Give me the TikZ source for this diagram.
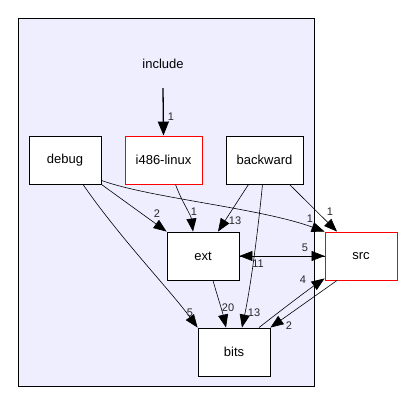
\documentclass[tikz,border=0pt]{standalone}
\usepackage{fontspec}
\setmainfont{Liberation Sans}
\usetikzlibrary{arrows.meta}
\definecolor{clusterbg}{RGB}{238,238,255}
\tikzset{
  dirbox/.style={draw=black, fill=white, line width=0.9pt, minimum width=72pt, minimum height=48pt, inner sep=0pt, font=\fontsize{13}{15}\selectfont},
  redbox/.style={dirbox, draw=red},
  dep/.style={draw=black, line width=0.6pt, -{Triangle[length=13pt,width=10pt]}},
  lab/.style={font=\fontsize{11}{13}\selectfont, inner sep=0pt, text=black!85}
}
\begin{document}
\begin{tikzpicture}[x=1pt,y=-1pt]
\useasboundingbox (0,0) rectangle (404,415);
\fill[white] (0,0) rectangle (404,415);
\draw[fill=clusterbg, line width=0.9pt] (18,18) rectangle (314,386);
\node[inner sep=0pt, minimum width=60pt, minimum height=48pt, font=\fontsize{13}{15}\selectfont] (include) at (163,64) {include};
\node[dirbox] (debug) at (65,160) {debug};
\node[redbox, minimum width=77pt] (i486) at (163.5,160) {i486-linux};
\node[dirbox, minimum width=77pt] (backward) at (264.5,160) {backward};
\node[dirbox] (ext) at (203,256) {ext};
\node[redbox] (src) at (361,256) {src};
\node[dirbox] (bits) at (234,352) {bits};

\draw[dep, line width=1.3pt, -{Triangle[length=14pt,width=11pt]}] (include.south) -- (i486.north) node[lab, at={(171,117)}] {1};
\draw[dep] (debug.south east) -- (ext.north west) node[lab, at={(157,214)}] {2};
\draw[dep] ([xshift=12pt]i486.south) .. controls (181,200) and (191,215) .. ([xshift=-10pt]ext.north) node[lab, at={(194,212)}] {1};
\draw[dep] ([xshift=18pt]debug.south) .. controls (120,238) and (170,290) .. (bits.north west) node[lab, at={(190,313)}] {5};
\draw[dep] ([yshift=4pt]debug.south east) .. controls (150,198) and (260,208) .. (src.north west) node[lab, at={(310,219)}] {1};
\draw[dep] ([xshift=-16pt]backward.south) -- ([xshift=15pt]ext.north) node[lab, at={(235,221)}] {13};
\draw[dep] ([xshift=-2pt]backward.south) .. controls (259,220) and (252,280) .. ([xshift=8pt]bits.north) node[lab, at={(254,313)}] {13};
\draw[dep] ([xshift=25pt]backward.south) -- ([xshift=-24pt]src.north) node[lab, at={(330,212)}] {1};
\draw[dep] (ext.east) -- (src.west) node[lab, at={(305,248)}] {5};
\draw[dep] (src.west) -- (ext.east) node[lab, at={(258,264)}] {11};
\draw[dep] ([xshift=10pt]ext.south) .. controls (217,295) and (222,310) .. ([xshift=-8pt]bits.north) node[lab, at={(228,308)}] {20};
\draw[dep] ([xshift=25pt]bits.north) .. controls (275,315) and (305,292) .. ([yshift=2pt]src.south west) node[lab, at={(303,280)}] {4};
\draw[dep] ([xshift=-24pt]src.south) -- (bits.north east) node[lab, at={(289,326)}] {2};
\end{tikzpicture}
\end{document}
